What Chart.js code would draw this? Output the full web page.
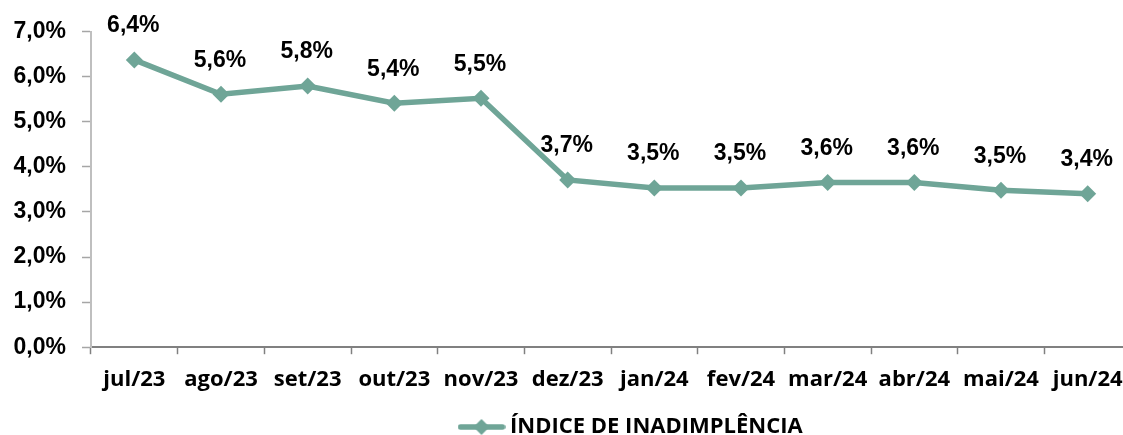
<!DOCTYPE html>
<html>
<head>
<meta charset="utf-8">
<script src="https://cdn.jsdelivr.net/npm/chart.js@4/dist/chart.umd.min.js"></script>
<style>
  html, body { margin: 0; padding: 0; background: #ffffff; overflow: hidden; }
  #wrap { position: relative; width: 1123px; height: 435px; overflow: hidden; }
  canvas { position: absolute; left: 0; top: 0; }
</style>
</head>
<body>
<div id="wrap"><canvas id="c" width="1140" height="448"></canvas></div>
<script>
const categories = ['jul/23','ago/23','set/23','out/23','nov/23','dez/23','jan/24','fev/24','mar/24','abr/24','mai/24','jun/24'];
const seriesName = 'ÍNDICE DE INADIMPLÊNCIA';
const inadimplencia = [6.37, 5.61, 5.79, 5.41, 5.52, 3.71, 3.53, 3.53, 3.65, 3.65, 3.48, 3.40];
const yTicks = [0, 1, 2, 3, 4, 5, 6, 7];

const lineColor = '#6fa597';
const fmt = v => v.toFixed(1).replace('.', ',') + '%';

// legend marker: line with a diamond
const legendMarker = document.createElement('canvas');
legendMarker.width = 48; legendMarker.height = 18;
(function () {
  const g = legendMarker.getContext('2d');
  g.strokeStyle = lineColor; g.lineWidth = 5.5; g.lineCap = 'round';
  g.beginPath(); g.moveTo(3, 9); g.lineTo(45, 9); g.stroke();
  g.fillStyle = lineColor;
  g.beginPath(); g.moveTo(24, 1); g.lineTo(32, 9); g.lineTo(24, 17); g.lineTo(16, 9); g.closePath(); g.fill();
})();

const dataLabels = {
  id: 'dataLabels',
  afterDatasetsDraw(chart) {
    const ctx = chart.ctx;
    const meta = chart.getDatasetMeta(0);
    ctx.save();
    ctx.font = 'bold 23px "Liberation Sans", Arial, sans-serif';
    ctx.fillStyle = '#000000';
    ctx.textAlign = 'center';
    ctx.textBaseline = 'middle';
    meta.data.forEach((p, i) => {
      ctx.fillText(fmt(chart.data.datasets[0].data[i]), p.x - 1, p.y - 34);
    });
    ctx.restore();
  }
};

const legendShift = {
  id: 'legendShift',
  afterLayout(chart) {
    const l = chart.legend;
    const w = l.right - l.left;
    l.left = 454; l.right = l.left + w;
  }
};

new Chart(document.getElementById('c'), {
  type: 'line',
  data: {
    labels: categories,
    datasets: [{
      label: seriesName,
      data: inadimplencia,
      borderColor: lineColor,
      backgroundColor: lineColor,
      borderWidth: 5.5,
      pointStyle: 'rectRot',
      pointRadius: 8.5,
      pointHoverRadius: 8.5,
      pointBackgroundColor: lineColor,
      pointBorderColor: lineColor,
      pointBorderWidth: 0,
      tension: 0
    }]
  },
  options: {
    responsive: false,
    devicePixelRatio: 1,
    animation: false,
    layout: { padding: { left: 0, right: 9, top: 31.5, bottom: 0 } },
    plugins: {
      tooltip: { enabled: false },
      legend: {
        position: 'bottom',
        align: 'start',
        labels: {
          usePointStyle: true,
          pointStyle: legendMarker,
          pointStyleWidth: 35,
          padding: 10,
          color: '#000000',
          font: { family: '"Open Sans", sans-serif', size: 22, weight: 'bold' }
        }
      }
    },
    scales: {
      x: {
        type: 'category',
        offset: true,
        afterFit(s) { s.height = 58.8; },
        border: { display: true, color: '#808080', width: 2 },
        grid: { display: true, offset: true, drawOnChartArea: false, drawTicks: true, tickLength: 7, tickColor: '#808080', tickWidth: 1.5 },
        ticks: {
          color: '#000000', padding: 12, maxRotation: 0, autoSkip: false,
          font: { family: '"Open Sans", sans-serif', size: 22, weight: 'bold' }
        }
      },
      y: {
        min: 0, max: 7,
        afterFit(s) { s.width = 91; },
        afterBuildTicks(s) { s.ticks = yTicks.map(v => ({ value: v })); },
        border: { display: true, color: '#bfbfbf', width: 2 },
        grid: { display: true, drawOnChartArea: false, drawTicks: true, tickLength: 9, tickColor: '#a6a6a6', tickWidth: 1.5 },
        ticks: {
          color: '#000000', padding: 16,
          callback: v => fmt(v),
          font: { family: '"Liberation Sans", Arial, sans-serif', size: 23, weight: 'bold' }
        }
      }
    }
  },
  plugins: [dataLabels, legendShift]
});
</script>
</body>
</html>
